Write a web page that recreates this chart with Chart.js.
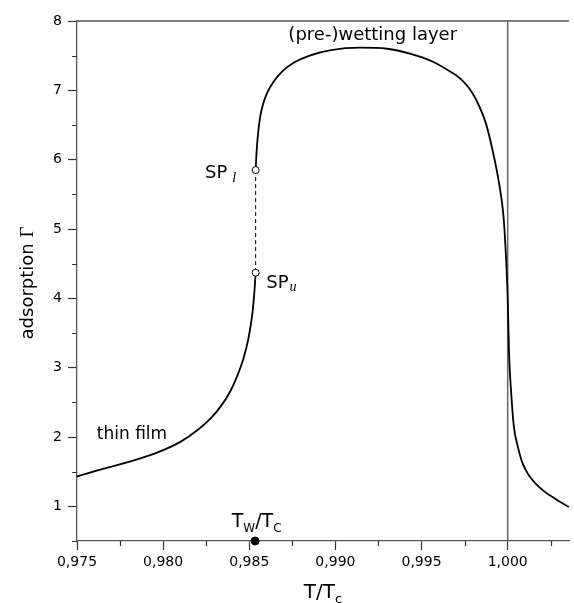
<!DOCTYPE html>
<html><head><meta charset="utf-8">
<script src="https://cdn.jsdelivr.net/npm/chart.js@4.4.1/dist/chart.umd.min.js"></script>
<style>html,body{margin:0;padding:0;background:#fff;overflow:hidden}#wrap{width:574px;height:603px;position:relative}</style>
</head><body><div id="wrap"><canvas id="c" width="574" height="603"></canvas></div>
<script>
// ---- data ----
const lowerT = [0.97500, 0.97650, 0.97800, 0.97950, 0.98100, 0.98200, 0.98280, 0.98340, 0.98390, 0.98430, 0.98465, 0.98495, 0.98518, 0.98530, 0.98537];
const lowerG = [1.43, 1.54, 1.64, 1.76, 1.93, 2.10, 2.28, 2.46, 2.66, 2.88, 3.12, 3.42, 3.78, 4.10, 4.37];
const upperT = [0.98537, 0.98542, 0.98550, 0.98562, 0.98580, 0.98605, 0.98640, 0.98690, 0.98760, 0.98850, 0.98974, 0.99146, 0.99300, 0.99433, 0.99560, 0.99680, 0.99720, 0.99760, 0.99790, 0.99820, 0.99874, 0.99912, 0.99950, 0.99976, 0.99988, 1.00000, 1.00008, 1.00020, 1.00036, 1.00060, 1.00085, 1.00120, 1.00161, 1.00210, 1.00257, 1.00300, 1.00356];
const upperG = [5.85, 6.10, 6.35, 6.60, 6.80, 6.97, 7.12, 7.27, 7.40, 7.50, 7.58, 7.615, 7.60, 7.53, 7.42, 7.25, 7.18, 7.08, 6.98, 6.85, 6.52, 6.14, 5.66, 5.18, 4.70, 4.02, 3.20, 2.65, 2.15, 1.85, 1.63, 1.46, 1.33, 1.22, 1.14, 1.07, 0.99];
const spT = [0.98537, 0.98537];   // SP_l, SP_u
const spG = [5.85, 4.37];
const twT = [0.98534];             // wetting temperature T_W/T_C
const twG = [0.5];
const tcT = [1.0, 1.0];            // T = T_c vertical line
const tcG = [0.5, 8];
const xTicks = [0.975, 0.980, 0.985, 0.990, 0.995, 1.000];
const xMinor = [0.9775, 0.9825, 0.9875, 0.9925, 0.9975, 1.0025];
const yTicks = [1, 2, 3, 4, 5, 6, 7, 8];
const yMinor = [0.5, 1.5, 2.5, 3.5, 4.5, 5.5, 6.5, 7.5];

const pts = (xs, ys) => xs.map((x, i) => ({x: x, y: ys[i]}));
const SANS = '"DejaVu Sans", sans-serif';
const SERIF = '"Liberation Serif", "DejaVu Serif", serif';
const AXIS = '#555';

function drawRuns(ctx, x, y, runs) {
  ctx.textBaseline = 'alphabetic';
  ctx.textAlign = 'left';
  for (const r of runs) {
    ctx.font = r.font;
    x += (r.dx || 0);
    ctx.fillText(r.t, x, y + (r.dy || 0));
    x += ctx.measureText(r.t).width;
  }
}

const deco = {
  id: 'deco',
  afterDraw(chart) {
    const ctx = chart.ctx, a = chart.chartArea;
    const xs = chart.scales.x, ys = chart.scales.y;
    ctx.save();
    // top frame line
    ctx.strokeStyle = AXIS; ctx.lineWidth = 1.3;
    ctx.beginPath(); ctx.moveTo(a.left, a.top); ctx.lineTo(a.right, a.top); ctx.stroke();
    // minor ticks
    ctx.lineWidth = 1.2; ctx.strokeStyle = '#333';
    ctx.beginPath();
    for (const v of yMinor) { const p = Math.round(ys.getPixelForValue(v)) + 0.5; ctx.moveTo(a.left - 5, p); ctx.lineTo(a.left, p); }
    for (const v of xMinor) { const p = Math.round(xs.getPixelForValue(v)) + 0.5; ctx.moveTo(p, a.bottom); ctx.lineTo(p, a.bottom + 5); }
    ctx.stroke();

    ctx.fillStyle = '#000';
    // annotations
    ctx.font = '18px ' + SANS; ctx.textBaseline = 'middle'; ctx.textAlign = 'left';
    ctx.fillText('(pre-)wetting layer', xs.getPixelForValue(0.98727), ys.getPixelForValue(7.79));
    ctx.font = '17px ' + SANS;
    ctx.fillText('thin film', xs.getPixelForValue(0.97615), ys.getPixelForValue(2.04));
    drawRuns(ctx, xs.getPixelForValue(0.98243), ys.getPixelForValue(5.735), [
      {t: 'SP', font: '18px ' + SANS}, {t: 'l', font: 'italic 14px ' + SERIF, dy: 4, dx: 5}]);
    drawRuns(ctx, xs.getPixelForValue(0.98599), ys.getPixelForValue(4.149), [
      {t: 'SP', font: '18px ' + SANS}, {t: 'u', font: 'italic 14px ' + SERIF, dy: 3, dx: 1}]);
    drawRuns(ctx, xs.getPixelForValue(0.98398), ys.getPixelForValue(0.70), [
      {t: 'T', font: '19px ' + SANS}, {t: 'W', font: '12px ' + SANS, dy: 5},
      {t: '/T', font: '19px ' + SANS}, {t: 'C', font: '12px ' + SANS, dy: 5}]);

    // x axis title
    ctx.font = '20px ' + SANS;
    const w1 = ctx.measureText('T/T').width;
    ctx.font = '13px ' + SANS;
    const w2 = ctx.measureText('c').width;
    const cx = (a.left + a.right) / 2;
    drawRuns(ctx, cx - (w1 + w2) / 2, 598, [
      {t: 'T/T', font: '20px ' + SANS}, {t: 'c', font: '13px ' + SANS, dy: 5}]);

    // y axis title (rotated)
    ctx.font = '18px ' + SANS;
    const wa = ctx.measureText('adsorption ').width;
    ctx.font = '19px ' + SERIF;
    const wg = ctx.measureText('\u0393').width;
    ctx.translate(33, (a.top + a.bottom) / 2 + 2);
    ctx.rotate(-Math.PI / 2);
    drawRuns(ctx, -(wa + wg) / 2, 0, [
      {t: 'adsorption ', font: '18px ' + SANS}, {t: '\u0393', font: '19px ' + SERIF}]);
    ctx.restore();
  }
};

new Chart(document.getElementById('c'), {
  type: 'scatter',
  data: {
    datasets: [
      {data: pts(tcT, tcG), showLine: true, borderColor: '#666', borderWidth: 1.5, pointRadius: 0, order: 6},
      {data: pts(lowerT, lowerG), showLine: true, borderColor: '#000', borderWidth: 1.8, pointRadius: 0, cubicInterpolationMode: 'monotone', order: 3},
      {data: pts(upperT, upperG), showLine: true, borderColor: '#000', borderWidth: 1.8, pointRadius: 0, cubicInterpolationMode: 'monotone', order: 3},
      {data: pts(spT, spG), showLine: true, borderColor: '#000', borderWidth: 1, borderDash: [4, 3], pointRadius: 3.5, pointBorderWidth: 1, pointBackgroundColor: '#fff', pointBorderColor: '#000', order: 1},
      {data: pts(twT, twG), showLine: false, pointRadius: 4, pointBackgroundColor: '#000', pointBorderColor: '#000', clip: false, order: 0}
    ]
  },
  options: {
    responsive: false, animation: false, devicePixelRatio: 1,
    layout: {padding: {top: 21, left: 0, right: 0, bottom: 0}},
    plugins: {legend: {display: false}, tooltip: {enabled: false}},
    scales: {
      x: {
        type: 'linear', min: 0.975, max: 1.00356,
        afterBuildTicks: s => { s.ticks = xTicks.map(v => ({value: v})); },
        afterFit: s => { s.height = 62; },
        grid: {drawOnChartArea: false, drawTicks: true, tickLength: 9, tickColor: '#333', tickWidth: 1.2},
        border: {display: true, color: AXIS, width: 1.3},
        ticks: {font: {family: SANS, size: 14}, color: '#000', padding: 4, maxRotation: 0, autoSkip: false,
          callback: v => Number(v).toFixed(3).replace('.', ',')}
      },
      y: {
        type: 'linear', min: 0.5, max: 8,
        afterBuildTicks: s => { s.ticks = yTicks.map(v => ({value: v})); },
        afterFit: s => { s.width = 77; },
        grid: {drawOnChartArea: false, drawTicks: true, tickLength: 9, tickColor: '#333', tickWidth: 1.2},
        border: {display: true, color: AXIS, width: 1.3},
        ticks: {font: {family: SANS, size: 14}, color: '#000', padding: 6, autoSkip: false,
          callback: v => String(v)}
      }
    }
  },
  plugins: [deco]
});
</script></body></html>
